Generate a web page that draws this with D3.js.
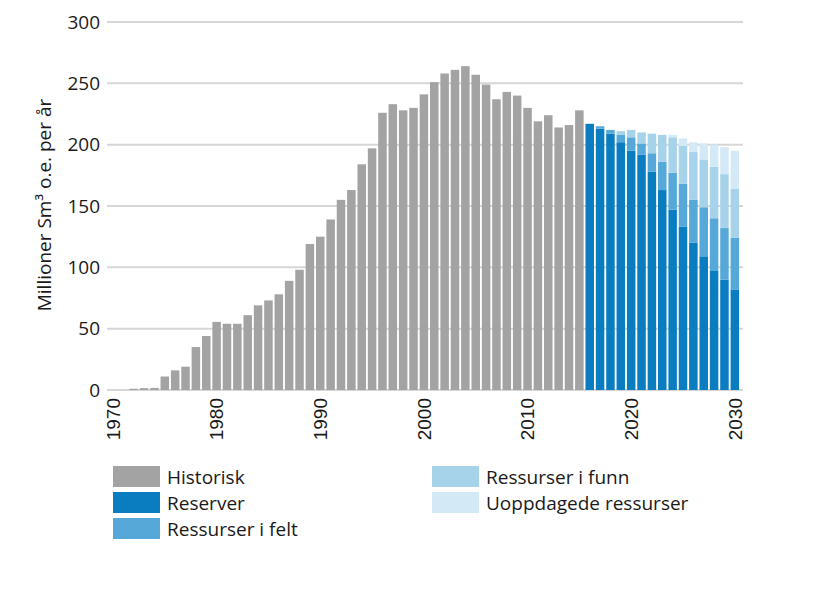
<!DOCTYPE html>
<html>
<head>
<meta charset="utf-8">
<style>
body { margin: 0; background: #fff; }
svg { font-family: "Open Sans", "DejaVu Sans", sans-serif; }
</style>
<script src="https://d3js.org/d3.v7.min.js"></script>
</head>
<body>
<script>
  const width = 816;
  const height = 590;

  // Historical production 1970-2015
  const histYears = d3.range(1970, 2016);
  const histValues = [0, 0, 1, 1.5, 1.7, 11, 16, 19, 35, 44,
    55.5, 54, 54, 61, 69, 73, 78, 89, 98, 119,
    125, 139, 155, 163, 184, 197, 226, 233, 228, 230,
    241, 251, 258, 261, 264, 257, 249, 237, 243, 240,
    230, 219, 224, 214, 216, 228];

  // Forecast 2016-2030 (stacked components)
  const fcYears = d3.range(2016, 2031);
  const reserver = [217, 213, 209, 202, 195, 192, 178, 163, 147, 133, 120, 109, 97, 90, 82];
  const ressurserFelt = [0, 2, 3, 6, 11, 9, 15, 23, 30, 35, 35, 40, 43, 42, 42];
  const ressurserFunn = [0, 0, 0, 3, 6, 9, 16, 22, 29, 31, 39, 39, 42, 44, 40];
  const uoppdagede = [0, 0, 0, 0, 0, 0, 0, 0, 2, 6, 8, 13, 18, 22, 31];

  const yTicks = [0, 50, 100, 150, 200, 250, 300];
  const xTicks = [1970, 1980, 1990, 2000, 2010, 2020, 2030];

  const seriesNames = ["Reserver", "Ressurser i felt", "Ressurser i funn", "Uoppdagede ressurser"];
  const colors = {
    "Historisk": "#a3a3a3",
    "Reserver": "#0a7dc1",
    "Ressurser i felt": "#55a8d8",
    "Ressurser i funn": "#a7d3ea",
    "Uoppdagede ressurser": "#d3eaf6"
  };

  const margin = { left: 107.8, right: 76, top: 22, bottom: 200 };

  const svg = d3.select("body").append("svg")
    .attr("width", width)
    .attr("height", height);

  const x = d3.scaleBand()
    .domain(d3.range(1970, 2031))
    .range([margin.left, width - margin.right])
    .paddingInner(0.18)
    .paddingOuter(0.09);

  const y = d3.scaleLinear()
    .domain([0, 300])
    .range([390, margin.top]);

  // gridlines
  svg.append("g")
    .selectAll("line")
    .data(yTicks)
    .enter().append("line")
      .attr("x1", 107)
      .attr("x2", 743)
      .attr("y1", d => y(d))
      .attr("y2", d => y(d))
      .attr("stroke", "#d6d6d6")
      .attr("stroke-width", 2);

  // y tick labels
  svg.append("g")
    .selectAll("text")
    .data(yTicks)
    .enter().append("text")
      .attr("x", 100)
      .attr("y", d => y(d))
      .attr("dy", "0.35em")
      .attr("text-anchor", "end")
      .style("font-size", "19px")
      .attr("fill", "#1a1a1a")
      .text(d => d);

  // y axis title
  svg.append("text")
    .attr("transform", "translate(51,205) rotate(-90)")
    .attr("text-anchor", "middle")
    .style("font-size", "19px")
    .attr("fill", "#1a1a1a")
    .text("Millioner Sm³ o.e. per år");

  // historical bars
  const hist = histYears.map((yr, i) => ({ year: yr, value: histValues[i] }));
  svg.append("g")
    .selectAll("rect")
    .data(hist)
    .enter().append("rect")
      .attr("x", d => x(d.year))
      .attr("width", x.bandwidth())
      .attr("y", d => y(d.value))
      .attr("height", d => y(0) - y(d.value))
      .attr("fill", colors["Historisk"]);

  // forecast stacked bars
  const fcTable = fcYears.map((yr, i) => ({
    year: yr,
    "Reserver": reserver[i],
    "Ressurser i felt": ressurserFelt[i],
    "Ressurser i funn": ressurserFunn[i],
    "Uoppdagede ressurser": uoppdagede[i]
  }));
  const stack = d3.stack().keys(seriesNames)(fcTable);

  svg.append("g")
    .selectAll("g")
    .data(stack)
    .enter().append("g")
      .attr("fill", d => colors[d.key])
    .selectAll("rect")
    .data(d => d)
    .enter().append("rect")
      .attr("x", d => x(d.data.year))
      .attr("width", x.bandwidth())
      .attr("y", d => y(d[1]))
      .attr("height", d => y(d[0]) - y(d[1]));

  // x tick labels (rotated)
  svg.append("g")
    .selectAll("text")
    .data(xTicks)
    .enter().append("text")
      .attr("transform", d => "translate(" + (x(d) + x.bandwidth() / 2) + ",398) rotate(-90)")
      .attr("dy", "0.36em")
      .attr("text-anchor", "end")
      .style("font-family", "'Liberation Sans', Arial, sans-serif")
      .style("font-size", "19px")
      .attr("fill", "#1a1a1a")
      .text(d => d);

  // legend
  const legendItems = [
    { name: "Historisk", col: 0, row: 0 },
    { name: "Reserver", col: 0, row: 1 },
    { name: "Ressurser i felt", col: 0, row: 2 },
    { name: "Ressurser i funn", col: 1, row: 0 },
    { name: "Uoppdagede ressurser", col: 1, row: 1 }
  ];
  const legend = svg.append("g")
    .selectAll("g")
    .data(legendItems)
    .enter().append("g")
      .attr("transform", d => "translate(" + (d.col ? 432 : 113) + "," + (466 + d.row * 26) + ")");

  legend.append("rect")
    .attr("width", 47)
    .attr("height", 21)
    .attr("fill", d => colors[d.name]);

  legend.append("text")
    .attr("x", 54)
    .attr("y", 11)
    .attr("dy", "0.35em")
    .style("font-size", "19px")
    .attr("fill", "#1a1a1a")
    .text(d => d.name);
</script>
</body>
</html>
